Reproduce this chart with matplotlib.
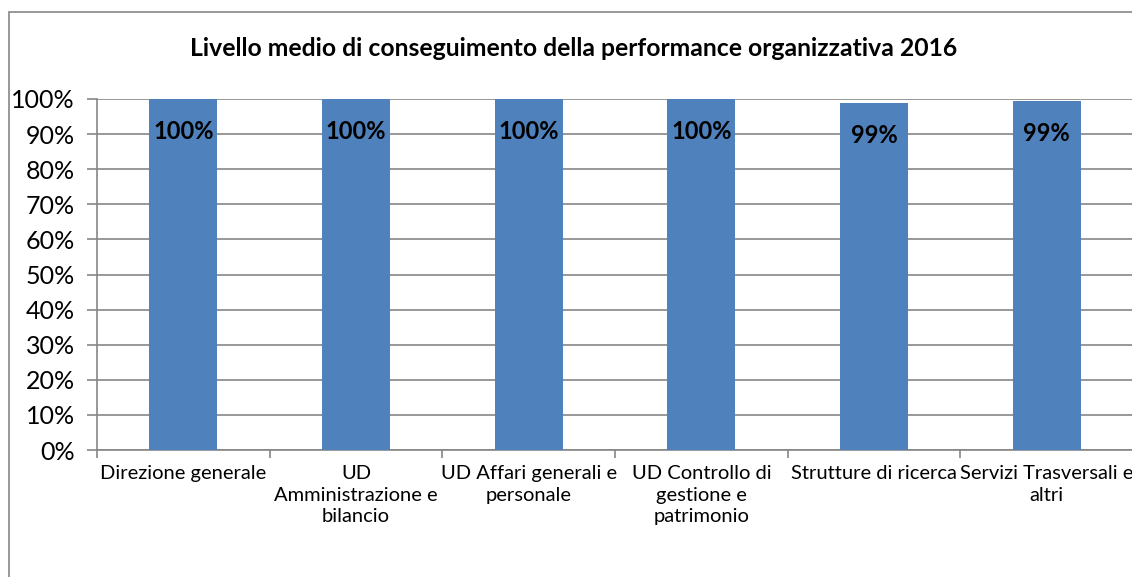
import matplotlib
matplotlib.use("Agg")
import matplotlib.pyplot as plt
from matplotlib.ticker import PercentFormatter, MultipleLocator, FixedLocator, NullFormatter
from matplotlib.patches import Rectangle

categories = ["Direzione generale", "UD\nAmministrazione e\nbilancio",
              "UD Affari generali e\npersonale", "UD Controllo di\ngestione e\npatrimonio",
              "Strutture di ricerca", "Servizi Trasversali e\naltri"]
values = [1.00, 1.00, 1.00, 1.00, 0.988, 0.993]
labels = ["100%", "100%", "100%", "100%", "99%", "99%"]
title = "Livello medio di conseguimento della performance organizzativa 2016"

plt.rcParams['font.family'] = ['Lato', 'DejaVu Sans']
fig = plt.figure(figsize=(11.32, 5.77), dpi=100)
W, H = 1132, 577
ax = fig.add_axes([97 / W, 1 - 450 / H, (1133 - 97) / W, (450 - 99) / H])

x = list(range(len(categories)))
bar_color = "#4f81bd"
ax.bar(x, values, width=0.395, color=bar_color, zorder=3)
for xi, v, lab in zip(x, values, labels):
    ax.text(xi, v - 0.092, lab, ha='center', va='center', fontsize=17,
            fontweight='bold', color='black', zorder=4)

ax.set_xlim(-0.5, len(categories) - 0.5)
ax.set_ylim(0, 1.0)
ax.yaxis.set_major_locator(MultipleLocator(0.1))
ax.yaxis.set_major_formatter(PercentFormatter(1.0, decimals=0))
ax.grid(axis='y', color='#868686', linewidth=1.2, zorder=0)
ax.set_axisbelow(True)

ax.set_xticks(x)
ax.set_xticklabels(categories, fontsize=14.5, linespacing=1.32)
ax.tick_params(axis='x', length=0, pad=11)
ax.xaxis.set_minor_locator(FixedLocator([i - 0.5 for i in range(len(categories) + 1)]))
ax.xaxis.set_minor_formatter(NullFormatter())
ax.tick_params(axis='x', which='minor', length=6, color='#868686', width=1.2)
ax.tick_params(axis='y', labelsize=18, length=7, color='#868686', width=1.2, pad=9)

for s in ['top', 'right']:
    ax.spines[s].set_visible(False)
for s in ['left', 'bottom']:
    ax.spines[s].set_color('#868686')
    ax.spines[s].set_linewidth(1.2)

fig.text(574 / W, 1 - 48 / H, title, ha='center', va='center', fontsize=17.8,
         fontweight='bold')

# chart border (outer frame)
fig.add_artist(Rectangle((9 / W, -0.05), 1.2, 1 - 12 / H + 0.05, transform=fig.transFigure,
                         fill=False, edgecolor='#868686', linewidth=1.2))

fig.savefig("out.png", dpi=100)
